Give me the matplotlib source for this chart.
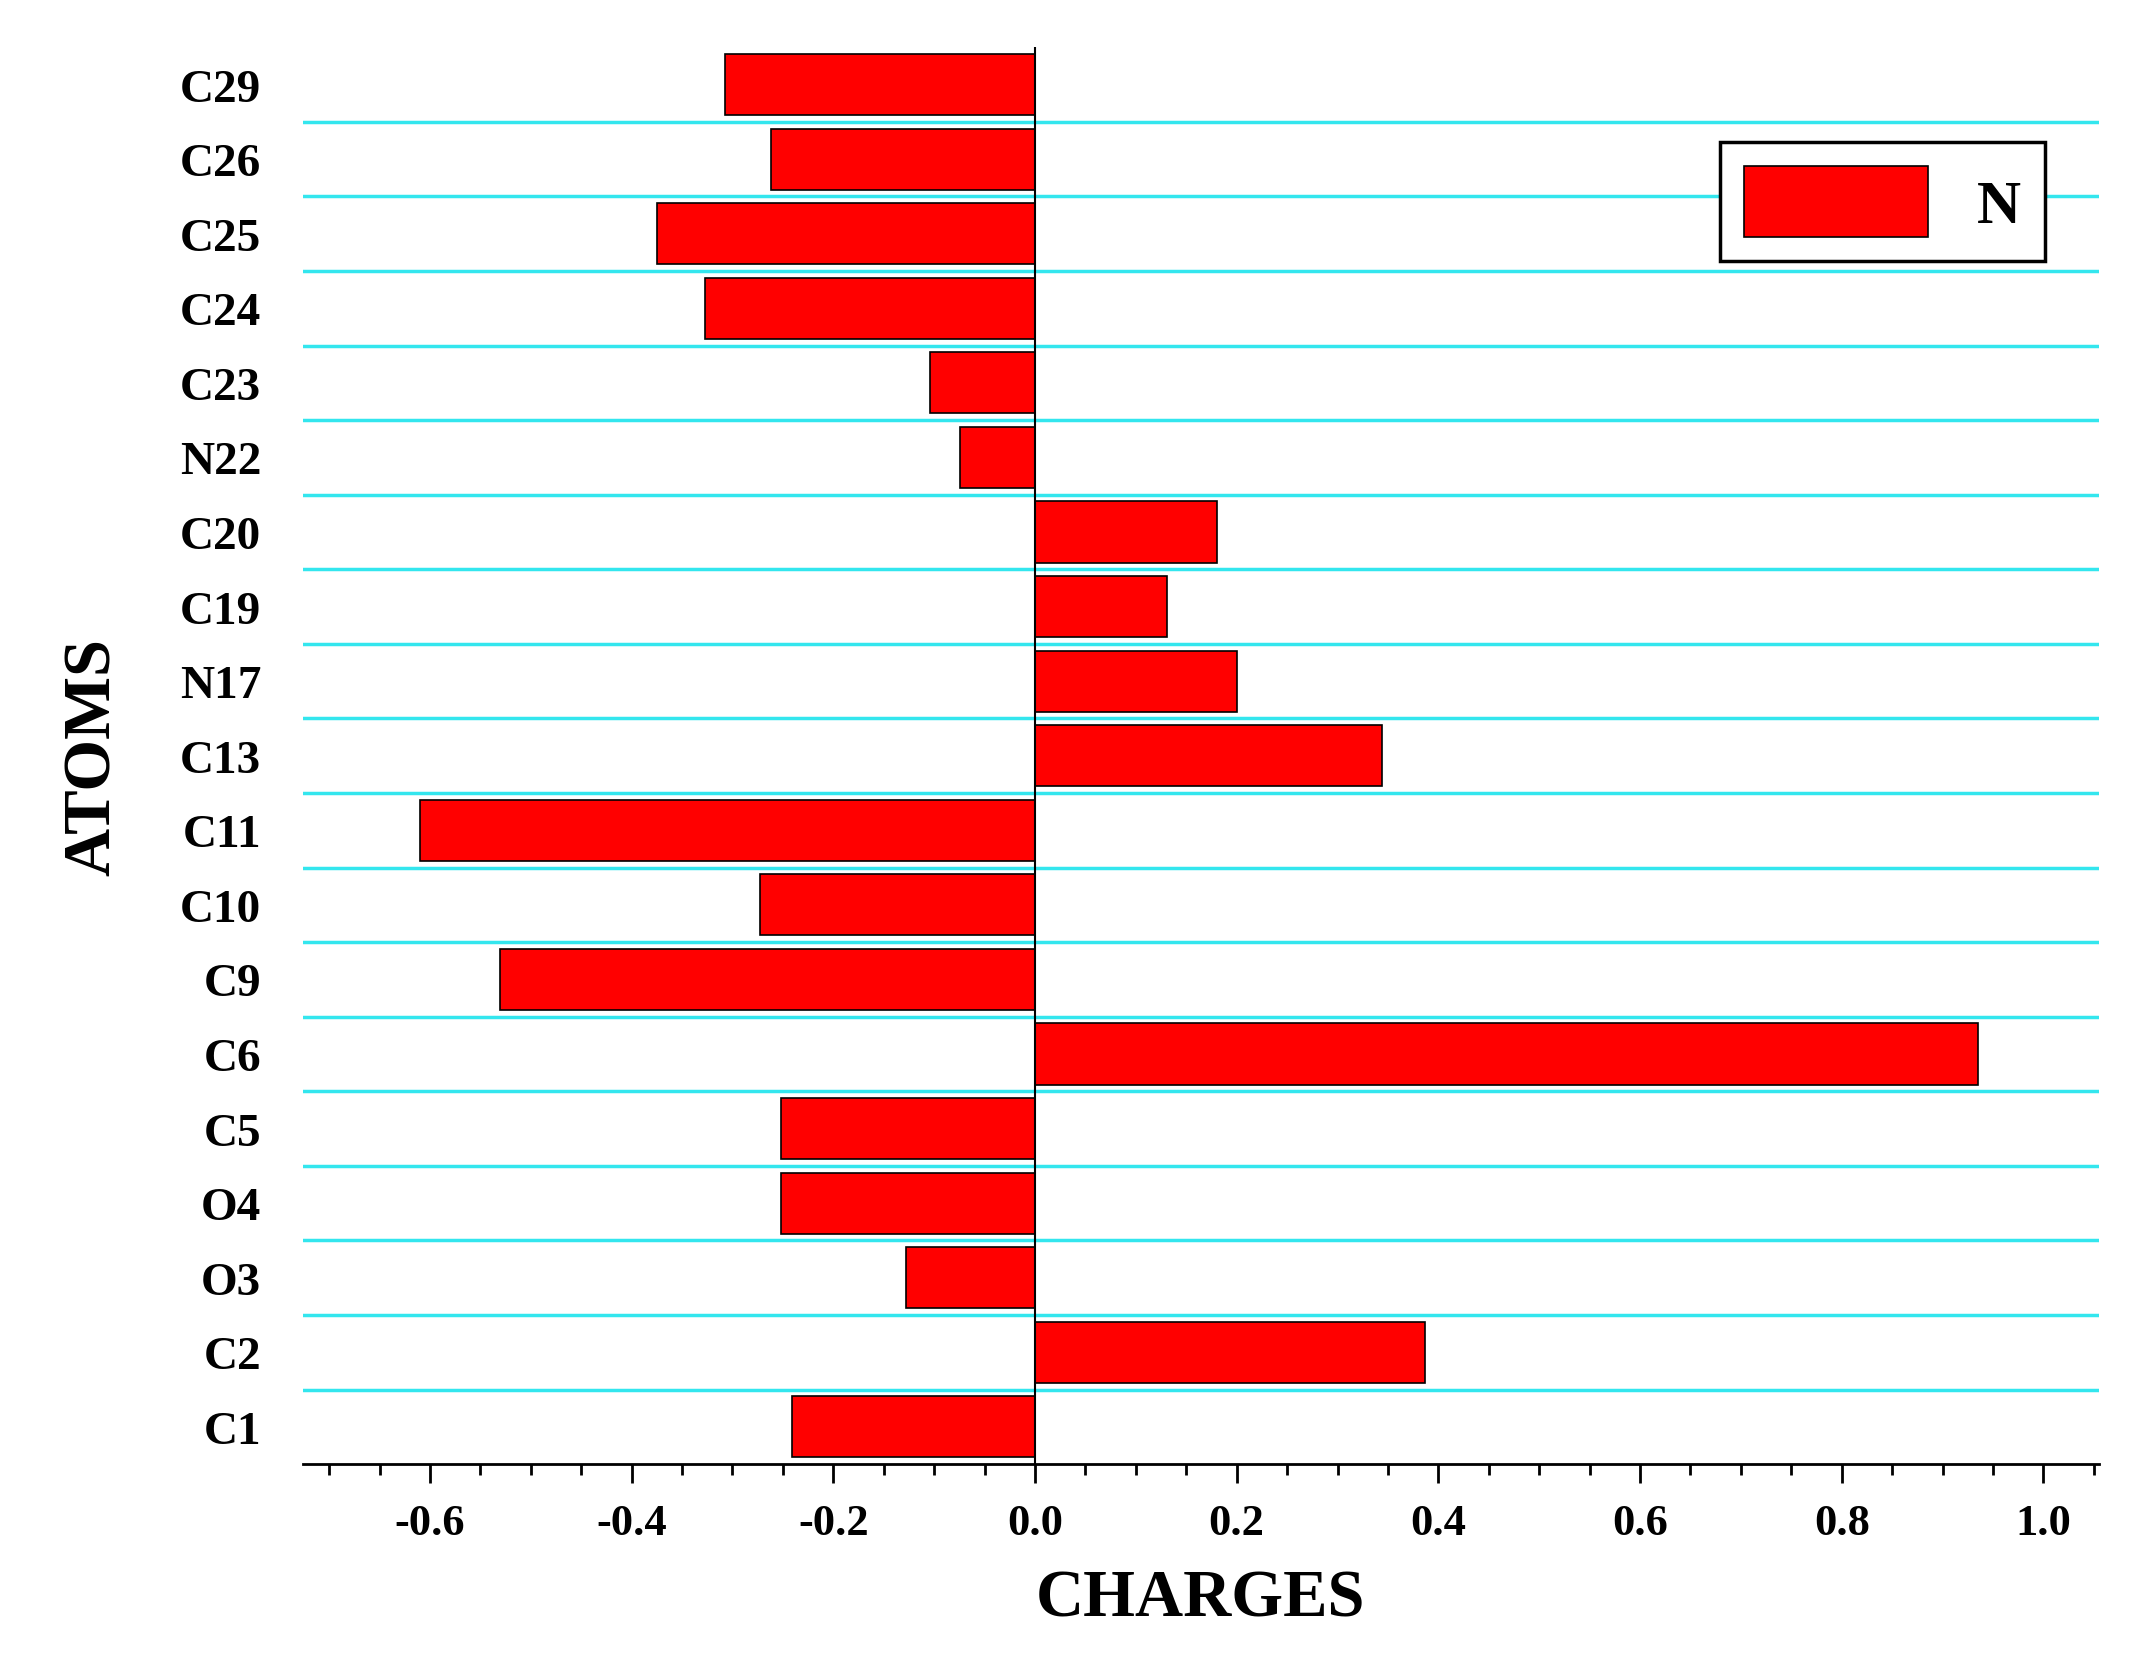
import numpy as np
import matplotlib.pyplot as plt
from matplotlib.ticker import MultipleLocator

atoms = ["C1", "C2", "O3", "O4", "C5", "C6", "C9", "C10", "C11", "C13",
         "N17", "C19", "C20", "N22", "C23", "C24", "C25", "C26", "C29"]
charges = [-0.241, 0.387, -0.128, -0.252, -0.252, 0.935, -0.531, -0.273, -0.610, 0.344,
           0.200, 0.131, 0.180, -0.074, -0.104, -0.327, -0.375, -0.262, -0.307]

plt.rcParams['font.family'] = ['Liberation Serif', 'DejaVu Serif']
plt.rcParams['font.weight'] = 'bold'

fig = plt.figure(figsize=(21.33, 16.65), dpi=100)
ax = fig.add_axes([0.142, 0.12, 0.842, 0.851])

y = np.arange(len(atoms))
ax.barh(y, charges, height=0.82, color="red", edgecolor="black", linewidth=1.2, label="N", zorder=3)
ax.axvline(0, color="black", linewidth=1.5, zorder=4)

for b in y[:-1] + 0.5:
    ax.axhline(b, color="#33e6ee", linewidth=2.5, zorder=1)

ax.set_xlim(-0.726, 1.055)
ax.set_ylim(-0.5, len(atoms) - 0.5)
ax.set_yticks(y)
ax.set_yticklabels(atoms)
ax.tick_params(axis="y", length=0, labelsize=34, pad=30)
ax.xaxis.set_major_locator(MultipleLocator(0.2))
ax.xaxis.set_minor_locator(MultipleLocator(0.05))
ax.set_xticks(np.arange(-0.6, 1.01, 0.2))
ax.set_xticklabels([f"{v:.1f}" for v in np.arange(-0.6, 1.01, 0.2)])
ax.tick_params(axis="x", which="major", length=14, width=2, labelsize=32, pad=14)
ax.tick_params(axis="x", which="minor", length=8, width=2)

for s in ["top", "right", "left"]:
    ax.spines[s].set_visible(False)
ax.spines["bottom"].set_linewidth(2)

ax.set_xlabel("CHARGES", fontsize=48, fontweight="bold", labelpad=18)
ax.set_ylabel("ATOMS", fontsize=48, fontweight="bold", labelpad=40)

leg = ax.legend(loc="upper right", bbox_to_anchor=(0.987, 0.955), fontsize=44,
                fancybox=False, edgecolor="black", handlelength=3, handleheight=1.4,
                borderpad=0.4, framealpha=1)
leg.get_frame().set_linewidth(2.5)

fig.savefig("out.png", dpi=100)
